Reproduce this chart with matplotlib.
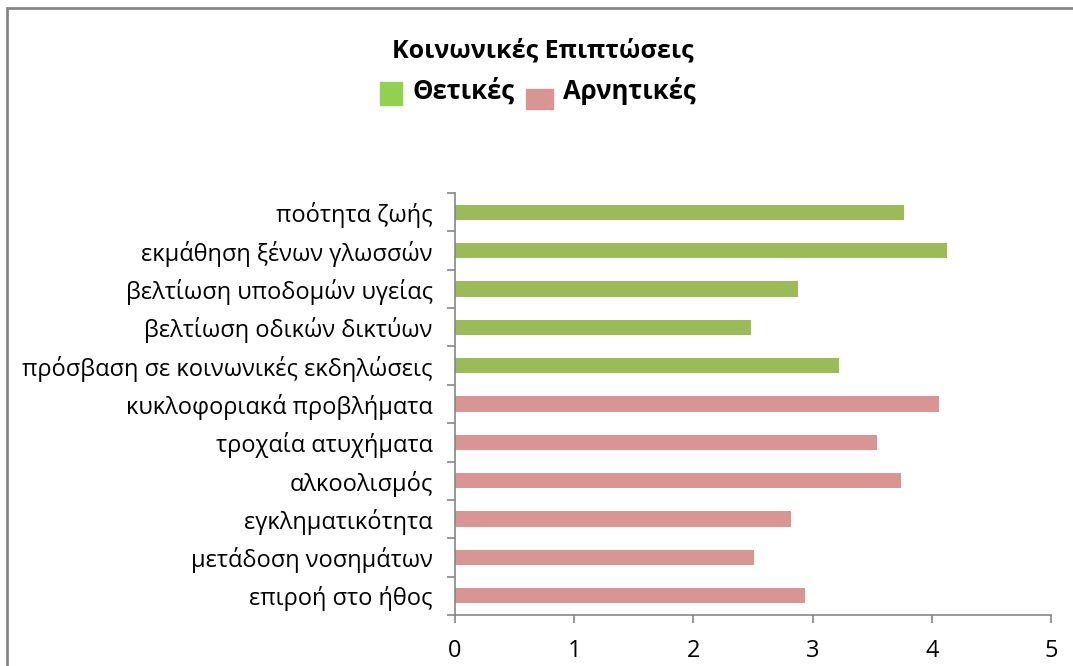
import matplotlib.pyplot as plt
from matplotlib.patches import Rectangle

plt.rcParams['font.family'] = ['Open Sans', 'DejaVu Sans']

categories = ['ποότητα ζωής', 'εκμάθηση ξένων γλωσσών', 'βελτίωση υποδομών υγείας',
              'βελτίωση οδικών δικτύων', 'πρόσβαση σε κοινωνικές εκδηλώσεις',
              'κυκλοφοριακά προβλήματα', 'τροχαία ατυχήματα', 'αλκοολισμός',
              'εγκληματικότητα', 'μετάδοση νοσημάτων', 'επιροή στο ήθος']
values = [3.77, 4.13, 2.88, 2.48, 3.22, 4.06, 3.54, 3.74, 2.82, 2.51, 2.94]
kind = ['pos'] * 5 + ['neg'] * 6

bar_colors = {'pos': '#9BBB59', 'neg': '#D99594'}
legend_colors = {'pos': '#92D050', 'neg': '#D99594'}

fig = plt.figure(figsize=(10.73, 6.66), dpi=100)
ax = fig.add_axes([455 / 1073, 51 / 666, 596 / 1073, 422 / 666])

y = list(range(len(categories)))
ax.barh(y, values, height=0.4, color=[bar_colors[k] for k in kind])
ax.set_ylim(len(categories) - 0.5, -0.5)
ax.set_xlim(0, 5)
ax.set_xticks(range(6))
ax.set_yticks(y)
ax.set_yticklabels(categories)
ax.set_yticks([i - 0.5 for i in range(len(categories) + 1)], minor=True)
ax.tick_params(axis='y', which='major', length=0, pad=16, labelsize=17)
ax.tick_params(axis='y', which='minor', length=6, color='#868686', width=1.2)
ax.tick_params(axis='x', length=6, color='#868686', width=1.2, labelsize=17, pad=11)
for s in ['top', 'right']:
    ax.spines[s].set_visible(False)
for s in ['left', 'bottom']:
    ax.spines[s].set_color('#868686')
    ax.spines[s].set_linewidth(1.2)

fig.text(543 / 1073, 1 - 51 / 666, 'Κοινωνικές Επιπτώσεις', ha='center', va='center',
         fontsize=18, fontweight='bold')
fig.patches.append(Rectangle((380 / 1073, 1 - 105 / 666), 22 / 1073, 23 / 666,
                             transform=fig.transFigure, color=legend_colors['pos']))
fig.text(413 / 1073, 1 - 91 / 666, 'Θετικές', ha='left', va='center',
         fontsize=18.5, fontweight='bold')
fig.patches.append(Rectangle((526 / 1073, 1 - 109 / 666), 27 / 1073, 20 / 666,
                             transform=fig.transFigure, color=legend_colors['neg']))
fig.text(563 / 1073, 1 - 91 / 666, 'Αρνητικές', ha='left', va='center',
         fontsize=18.5, fontweight='bold')

# chart border, cut off at right and bottom
fig.patches.append(Rectangle((7 / 1073, -0.1), 1.2, 1 - 8 / 666 + 0.1,
                             transform=fig.transFigure, fill=False,
                             edgecolor='#868686', linewidth=2))

fig.savefig('out.png', dpi=100)
